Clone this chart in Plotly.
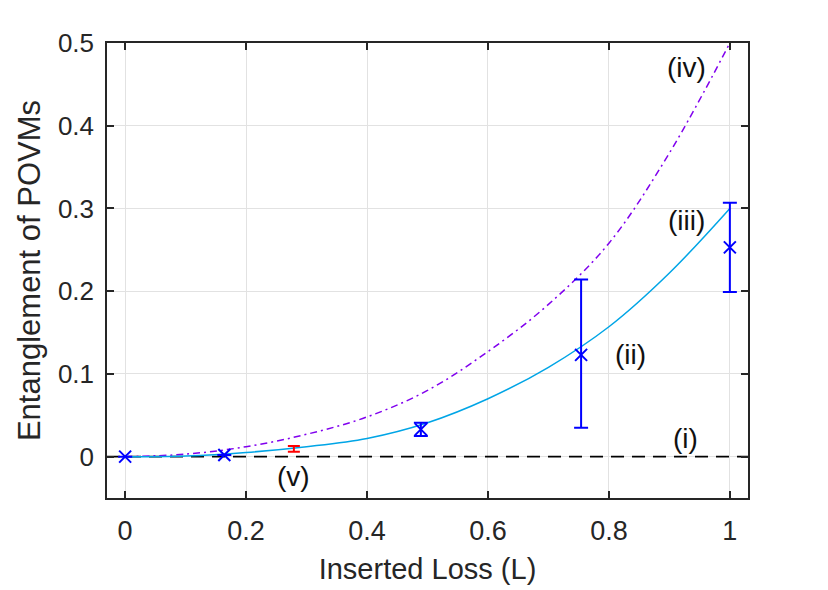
import plotly.graph_objects as go

# Theory curves
curve_x = [0, 0.1, 0.2, 0.3, 0.4, 0.5, 0.6, 0.7, 0.8, 0.9, 1.0]
curve_iii = [0, 0.0008, 0.005, 0.012, 0.022, 0.041, 0.070, 0.108, 0.157, 0.222, 0.300]
curve_iv = [0, 0.003, 0.012, 0.027, 0.048, 0.080, 0.127, 0.184, 0.258, 0.367, 0.500]

# Zero line (i)
zero_x = [-0.03, 1.03]
zero_y = [0, 0]

# Measured points (blue)
meas_x = [0, 0.164, 0.489, 0.754, 1.0]
meas_y = [0, 0.002, 0.033, 0.123, 0.253]
meas_err_plus = [0, 0, 0.008, 0.091, 0.054]
meas_err_minus = [0, 0, 0.008, 0.088, 0.054]

# Red error bar (v)
red_x = [0.279]
red_y = [0.0095]
red_err = [0.0035]

# Curve labels
label_text = ["(i)", "(ii)", "(iii)", "(iv)", "(v)"]
label_x = [0.926, 0.836, 0.929, 0.929, 0.279]
label_y = [0.022, 0.124, 0.286, 0.470, -0.024]

FONT = "Liberation Sans, Arial"

fig = go.Figure()

fig.add_trace(go.Scatter(x=zero_x, y=zero_y, mode="lines",
                         line=dict(color="black", width=1.8, dash="13px,8px"),
                         showlegend=False, hoverinfo="skip"))
fig.add_trace(go.Scatter(x=curve_x, y=curve_iv, mode="lines", line_shape="spline",
                         line=dict(color="#8000ee", width=1.5, dash="7px,4px,2px,4px"),
                         showlegend=False))
fig.add_trace(go.Scatter(x=curve_x, y=curve_iii, mode="lines", line_shape="spline",
                         line=dict(color="#00a5e6", width=1.5),
                         showlegend=False))
fig.add_trace(go.Scatter(x=red_x, y=red_y, mode="markers",
                         marker=dict(size=1, color="red", opacity=0),
                         error_y=dict(type="data", array=red_err, visible=True,
                                      color="red", thickness=2, width=6),
                         showlegend=False))
fig.add_trace(go.Scatter(x=meas_x, y=meas_y, mode="markers",
                         marker=dict(symbol="x-thin", size=12, color="blue",
                                     line=dict(color="blue", width=2)),
                         error_y=dict(type="data", symmetric=False, array=meas_err_plus,
                                      arrayminus=meas_err_minus, visible=True,
                                      color="blue", thickness=2, width=7),
                         showlegend=False))

for t, x, y in zip(label_text, label_x, label_y):
    fig.add_annotation(x=x, y=y, text=t, showarrow=False,
                       font=dict(size=28, color="#111111", family=FONT))

axis_common = dict(
    showline=True, linecolor="#262626", linewidth=1.5, mirror="allticks",
    ticks="inside", ticklen=7, tickwidth=1.5, tickcolor="#262626",
    showgrid=True, gridcolor="#e2e2e2", gridwidth=1, zeroline=False,
    automargin=False,
)

fig.update_xaxes(range=[-0.03, 1.03], tickvals=[0, 0.2, 0.4, 0.6, 0.8, 1],
                 ticktext=["0", "0.2", "0.4", "0.6", "0.8", "1"],
                 tickfont=dict(size=27, color="#262626", family=FONT),
                 title=dict(text="Inserted Loss (L)", standoff=14,
                            font=dict(size=29, color="#262626", family=FONT)),
                 ticklabelstandoff=8,
                 **axis_common)
fig.update_yaxes(range=[-0.05, 0.5], tickvals=[0, 0.1, 0.2, 0.3, 0.4, 0.5],
                 ticktext=["0", "0.1", "0.2", "0.3", "0.4", "0.5"],
                 tickfont=dict(size=26, color="#262626", family=FONT),
                 title=dict(text="Entanglement of POVMs", standoff=8,
                            font=dict(size=31, color="#262626", family=FONT)),
                 ticklabelstandoff=6,
                 **axis_common)

fig.update_layout(width=828, height=590,
                  margin=dict(l=107, r=80, t=43, b=92),
                  plot_bgcolor="white", paper_bgcolor="white")

fig.write_html("out.html")
